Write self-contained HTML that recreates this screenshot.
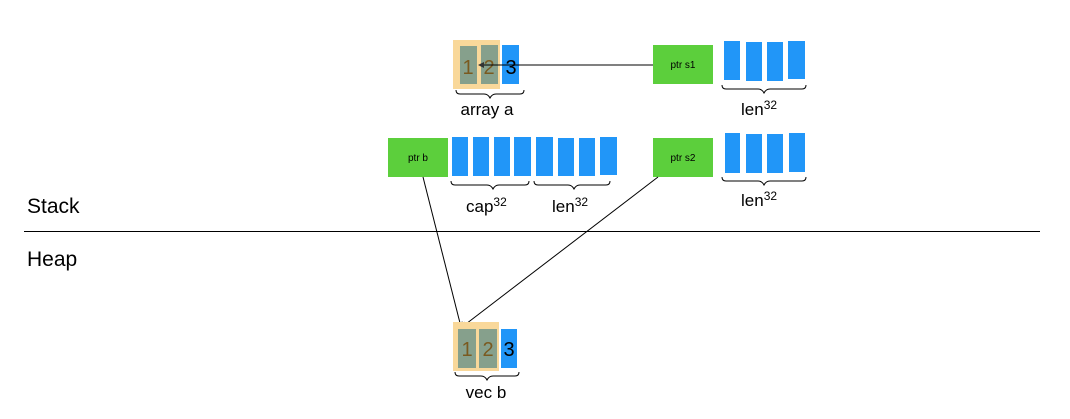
<!DOCTYPE html>
<html><head><meta charset="utf-8"><style>html,body{margin:0;padding:0;background:#fff}svg{display:block}text{font-family:"Liberation Sans",sans-serif}</style></head><body>
<svg width="1070" height="419" viewBox="0 0 1070 419" xmlns="http://www.w3.org/2000/svg">
<defs><marker id="ah" markerWidth="6" markerHeight="6" refX="5" refY="3" orient="auto" markerUnits="userSpaceOnUse"><path d="M0,0 L6,3 L0,6 z" fill="#333"/></marker></defs>
<!-- array a -->
<rect x="453" y="40" width="47" height="49" fill="#f9d89a"/>
<rect x="460" y="46" width="17" height="38" fill="#86a08c"/>
<rect x="481" y="45" width="17" height="39" fill="#86a08c"/>
<rect x="502" y="45" width="17" height="39" fill="#2196f8"/>
<text x="468" y="74" font-size="20" fill="#7a5a20" text-anchor="middle">1</text>
<text x="489" y="74" font-size="20" fill="#7a5a20" text-anchor="middle">2</text>
<text x="511" y="74" font-size="20" fill="#000" text-anchor="middle">3</text>
<line x1="653" y1="65" x2="479" y2="65" stroke="#000" stroke-width="1" marker-end="url(#ah)"/>
<path d="M456,90 q0,4 4,4 h24 q4,0 6,4 q2,-4 6,-4 h24 q4,0 4,-4" fill="none" stroke="#000" stroke-width="1"/>
<text x="487" y="115" font-size="17" text-anchor="middle">array a</text>
<!-- ptr s1 -->
<rect x="653" y="45" width="60" height="39" fill="#5ccf3c"/>
<text x="683" y="68" font-size="10" text-anchor="middle">ptr s1</text>
<rect x="724" y="41" width="16" height="39" fill="#2196f8"/>
<rect x="746" y="42" width="16" height="39" fill="#2196f8"/>
<rect x="767" y="42" width="16" height="39" fill="#2196f8"/>
<rect x="788" y="41" width="17" height="38" fill="#2196f8"/>
<path d="M722,85 q0,4 4,4 h32 q4,0 6,4 q2,-4 6,-4 h32 q4,0 4,-4" fill="none" stroke="#000"/>
<text x="741" y="115" font-size="17">len<tspan font-size="12" dy="-6">32</tspan></text>
<!-- ptr b -->
<rect x="388" y="138" width="60" height="39" fill="#5ccf3c"/>
<text x="418" y="161" font-size="10" text-anchor="middle">ptr b</text>
<g fill="#2196f8">
<rect x="452" y="137" width="16" height="39"/><rect x="473" y="137" width="16" height="39"/><rect x="494" y="137" width="16" height="39"/><rect x="514" y="137" width="17" height="39"/>
<rect x="536" y="137" width="17" height="39"/><rect x="558" y="138" width="16" height="38"/><rect x="579" y="138" width="16" height="38"/><rect x="600" y="137" width="17" height="38"/>
</g>
<path d="M451,181 q0,4 4,4 h32 q4,0 6,4 q2,-4 6,-4 h26 q4,0 4,-4" fill="none" stroke="#000"/>
<path d="M534,181 q0,4 4,4 h30 q4,0 6,4 q2,-4 6,-4 h26 q4,0 4,-4" fill="none" stroke="#000"/>
<text x="466" y="212" font-size="17">cap<tspan font-size="12" dy="-6">32</tspan></text>
<text x="552" y="212" font-size="17">len<tspan font-size="12" dy="-6">32</tspan></text>
<!-- ptr s2 -->
<rect x="653" y="138" width="60" height="39" fill="#5ccf3c"/>
<text x="683" y="161" font-size="10" text-anchor="middle">ptr s2</text>
<rect x="725" y="133" width="15" height="40" fill="#2196f8"/>
<rect x="746" y="134" width="16" height="39" fill="#2196f8"/>
<rect x="767" y="134" width="16" height="39" fill="#2196f8"/>
<rect x="789" y="133" width="16" height="39" fill="#2196f8"/>
<path d="M722,177 q0,4 4,4 h32 q4,0 6,4 q2,-4 6,-4 h32 q4,0 4,-4" fill="none" stroke="#000"/>
<text x="741" y="206" font-size="17">len<tspan font-size="12" dy="-6">32</tspan></text>
<!-- stack/heap -->
<text x="27" y="213" font-size="21">Stack</text>
<line x1="24" y1="231.5" x2="1040" y2="231.5" stroke="#000"/>
<text x="27" y="266" font-size="21">Heap</text>
<!-- pointers -->
<line x1="423" y1="177" x2="461" y2="327" stroke="#000" marker-end="url(#ah)"/>
<line x1="658" y1="177" x2="462" y2="327" stroke="#000" marker-end="url(#ah)"/>
<!-- vec b -->
<rect x="453" y="322" width="46" height="49" fill="#f9d89a"/>
<rect x="458" y="329" width="18" height="39" fill="#86a08c"/>
<rect x="479" y="329" width="18" height="39" fill="#86a08c"/>
<rect x="501" y="329" width="16" height="39" fill="#2196f8"/>
<text x="467" y="356" font-size="20" fill="#7a5a20" text-anchor="middle">1</text>
<text x="488" y="356" font-size="20" fill="#7a5a20" text-anchor="middle">2</text>
<text x="509" y="356" font-size="20" fill="#000" text-anchor="middle">3</text>
<path d="M455,372 q0,4 4,4 h22 q4,0 6,4 q2,-4 6,-4 h22 q4,0 4,-4" fill="none" stroke="#000"/>
<text x="486" y="398" font-size="17" text-anchor="middle">vec b</text>
</svg>
</body></html>
